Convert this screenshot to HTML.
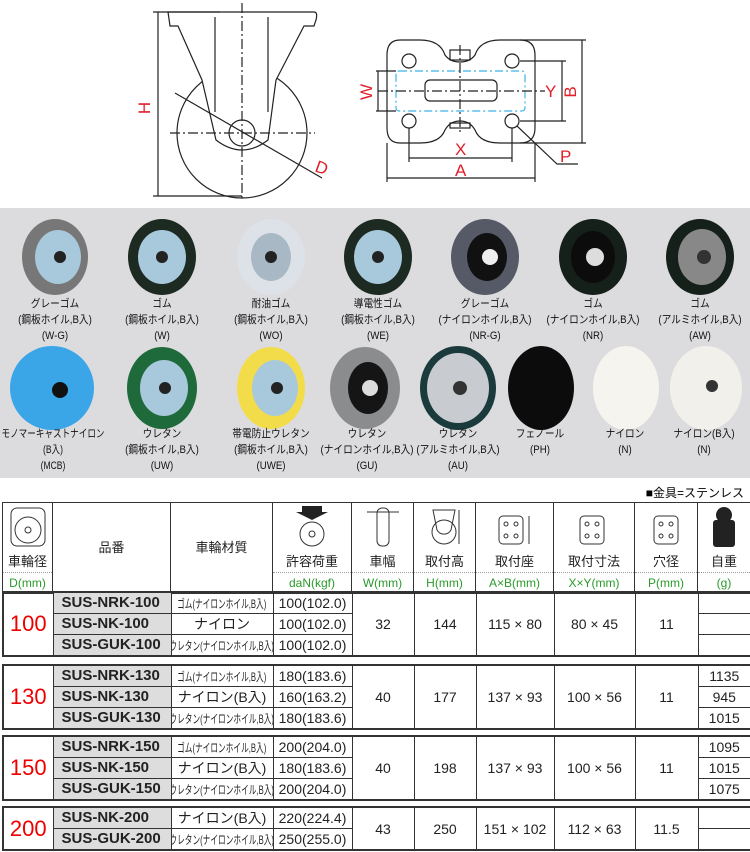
<!DOCTYPE html>
<html><head><meta charset="utf-8"><style>
body{margin:0;width:750px;height:852px;background:#fff;position:relative;overflow:hidden;font-family:"Liberation Sans","Noto Sans CJK JP",sans-serif;}
.a{position:absolute}
.lbl{position:absolute;font-size:11px;line-height:16px;text-align:center;width:140px;color:#111;white-space:nowrap;transform:scaleX(0.88)}
table{position:absolute;border-collapse:collapse;table-layout:fixed;font-size:14px;color:#222}
td{border:1px solid #333;padding:0;text-align:center;height:20px;line-height:18px;white-space:nowrap;overflow:hidden}
.pn{background:#ddd;text-align:left;padding-left:8px;font-weight:bold;font-size:15px}
.mat span{display:inline-block;font-size:12px;transform:scaleX(0.64);transform-origin:center;margin:0 -40px}
.big{color:#e00;font-size:22px;font-weight:normal}
</style></head><body>
<svg class="a" style="left:0;top:0" width="750" height="205" viewBox="0 0 750 205">
<g fill="none" stroke="#222" stroke-width="1.2">
<circle cx="242" cy="133" r="65"/>
<path d="M168 12 H314 Q318 12 316 20 L314 26 H304 L276 80 L268 140 Q242 160 216 140 L202 80 L178 26 H170 Z" fill="#fff"/>
<circle cx="242" cy="133" r="13"/>
<line x1="215" y1="17" x2="215" y2="112"/><line x1="268" y1="17" x2="268" y2="112"/>
<line x1="158" y1="12" x2="158" y2="196"/><line x1="153" y1="12" x2="220" y2="12"/><line x1="153" y1="196" x2="242" y2="196"/>
<line x1="175" y1="93" x2="322" y2="178"/>
<line x1="242" y1="3" x2="242" y2="200" stroke-dasharray="10 3 2 3"/>
<line x1="170" y1="133" x2="315" y2="133" stroke-dasharray="10 3 2 3"/>
<path d="M400 40 H420 Q440 40 445 55 Q450 62 460 62 Q470 62 475 55 Q480 40 500 40 H520 Q535 40 535 55 V128 Q535 143 520 143 H500 Q480 143 475 130 Q470 121 460 121 Q450 121 445 130 Q440 143 420 143 H400 Q387 143 387 128 V55 Q387 40 400 40 Z"/>
<rect x="450" y="50" width="20" height="10"/><rect x="450" y="123" width="20" height="5"/>
<circle cx="409" cy="61" r="7"/><circle cx="512" cy="61" r="7"/><circle cx="409" cy="121" r="7"/><circle cx="512" cy="121" r="7"/>
<rect x="425" y="80" width="72" height="21" rx="5"/>
<rect x="396" y="71" width="129" height="40" rx="3" stroke="#3bb4e8" stroke-dasharray="8 3 2 3"/>
<line x1="378" y1="91" x2="545" y2="91" stroke-dasharray="10 3 2 3"/>
<line x1="460" y1="45" x2="460" y2="135" stroke-dasharray="10 3 2 3"/>
<line x1="376" y1="71" x2="396" y2="71"/><line x1="376" y1="111" x2="396" y2="111"/><line x1="378" y1="71" x2="378" y2="111"/>
<line x1="520" y1="61" x2="566" y2="61"/><line x1="520" y1="121" x2="566" y2="121"/><line x1="562" y1="61" x2="562" y2="121"/>
<line x1="520" y1="40" x2="586" y2="40"/><line x1="520" y1="143" x2="586" y2="143"/><line x1="582" y1="40" x2="582" y2="143"/>
<line x1="409" y1="128" x2="409" y2="162"/><line x1="512" y1="128" x2="512" y2="162"/><line x1="409" y1="158" x2="512" y2="158"/>
<line x1="387" y1="143" x2="387" y2="182"/><line x1="535" y1="143" x2="535" y2="182"/><line x1="387" y1="178" x2="535" y2="178"/>
<path d="M517 126 L557 164 H578"/>
</g>
<g fill="#e0202a" font-size="17" font-family="Liberation Sans">
<text x="150" y="108" transform="rotate(-90 150 108)" text-anchor="middle">H</text>
<text x="314" y="171" transform="rotate(20 314 171)">D</text>
<text x="372" y="92" transform="rotate(-90 372 92)" text-anchor="middle">W</text>
<text x="545" y="97">Y</text>
<text x="576" y="92" transform="rotate(-90 576 92)" text-anchor="middle">B</text>
<text x="455" y="155">X</text><text x="455" y="176">A</text><text x="560" y="162">P</text>
</g>
</svg>
<div class="a" style="left:0;top:208px;width:750px;height:270px;background:#dcdcde"></div>
<svg class="a" style="left:0;top:208px" width="750" height="270">
<g>
<ellipse cx="55" cy="49" rx="33" ry="38" fill="#777"/><ellipse cx="58" cy="49" rx="23" ry="27" fill="#a8c8dc"/><circle cx="60" cy="49" r="6" fill="#222"/>
<ellipse cx="162" cy="49" rx="34" ry="38" fill="#1c2a22"/><ellipse cx="162" cy="49" rx="24" ry="27" fill="#a8c8dc"/><circle cx="162" cy="49" r="6" fill="#222"/>
<ellipse cx="271" cy="49" rx="34" ry="38" fill="#dde2e8"/><ellipse cx="271" cy="49" rx="20" ry="24" fill="#a8b8c4"/><circle cx="271" cy="49" r="6" fill="#222"/>
<ellipse cx="378" cy="49" rx="34" ry="38" fill="#1c2a22"/><ellipse cx="378" cy="49" rx="24" ry="27" fill="#a8c8dc"/><circle cx="378" cy="49" r="6" fill="#222"/>
<ellipse cx="485" cy="49" rx="34" ry="38" fill="#555a66"/><ellipse cx="487" cy="49" rx="20" ry="24" fill="#111"/><circle cx="490" cy="49" r="8" fill="#eee"/>
<ellipse cx="593" cy="49" rx="34" ry="38" fill="#15201a"/><ellipse cx="593" cy="49" rx="22" ry="26" fill="#0c0c0c"/><circle cx="595" cy="49" r="9" fill="#ddd"/>
<ellipse cx="700" cy="49" rx="34" ry="38" fill="#15201a"/><ellipse cx="702" cy="49" rx="24" ry="28" fill="#888"/><circle cx="704" cy="49" r="7" fill="#333"/>
<ellipse cx="52" cy="180" rx="42" ry="42" fill="#3aa6e8"/><circle cx="60" cy="182" r="8" fill="#111"/>
<ellipse cx="162" cy="180" rx="35" ry="41" fill="#1f6a3a"/><ellipse cx="164" cy="180" rx="24" ry="28" fill="#a8c8dc"/><circle cx="165" cy="180" r="6" fill="#222"/>
<ellipse cx="271" cy="180" rx="34" ry="41" fill="#f3dc4a"/><ellipse cx="275" cy="180" rx="23" ry="28" fill="#a8c8dc"/><circle cx="277" cy="180" r="6" fill="#222"/>
<ellipse cx="365" cy="180" rx="35" ry="41" fill="#8a8c8e"/><ellipse cx="368" cy="180" rx="20" ry="26" fill="#151515"/><circle cx="370" cy="180" r="8" fill="#ddd"/>
<ellipse cx="458" cy="180" rx="38" ry="42" fill="#1a3a3c"/><ellipse cx="458" cy="180" rx="31" ry="35" fill="#c8ccd0"/><circle cx="460" cy="180" r="7" fill="#333"/>
<ellipse cx="541" cy="180" rx="33" ry="42" fill="#0c0c0c"/>
<ellipse cx="626" cy="180" rx="33" ry="42" fill="#f6f4ee"/>
<ellipse cx="706" cy="180" rx="36" ry="42" fill="#f2f0ea"/><circle cx="712" cy="178" r="6" fill="#333"/>
</g></svg>
<div class="lbl" style="left:-15px;top:296px">グレーゴム<br>(鋼板ホイル,B入)<br>(W-G)</div>
<div class="lbl" style="left:92px;top:296px">ゴム<br>(鋼板ホイル,B入)<br>(W)</div>
<div class="lbl" style="left:201px;top:296px">耐油ゴム<br>(鋼板ホイル,B入)<br>(WO)</div>
<div class="lbl" style="left:308px;top:296px">導電性ゴム<br>(鋼板ホイル,B入)<br>(WE)</div>
<div class="lbl" style="left:415px;top:296px">グレーゴム<br>(ナイロンホイル,B入)<br>(NR-G)</div>
<div class="lbl" style="left:523px;top:296px">ゴム<br>(ナイロンホイル,B入)<br>(NR)</div>
<div class="lbl" style="left:630px;top:296px">ゴム<br>(アルミホイル,B入)<br>(AW)</div>
<div class="lbl" style="left:-17px;top:426px;transform:scaleX(0.78)">モノマーキャストナイロン<br>(B入)<br>(MCB)</div>
<div class="lbl" style="left:92px;top:426px">ウレタン<br>(鋼板ホイル,B入)<br>(UW)</div>
<div class="lbl" style="left:201px;top:426px">帯電防止ウレタン<br>(鋼板ホイル,B入)<br>(UWE)</div>
<div class="lbl" style="left:297px;top:426px">ウレタン<br>(ナイロンホイル,B入)<br>(GU)</div>
<div class="lbl" style="left:388px;top:426px">ウレタン<br>(アルミホイル,B入)<br>(AU)</div>
<div class="lbl" style="left:470px;top:426px">フェノール<br>(PH)</div>
<div class="lbl" style="left:555px;top:426px">ナイロン<br>(N)</div>
<div class="lbl" style="left:634px;top:426px">ナイロン(B入)<br>(N)</div>
<div class="a" style="right:6px;top:484px;font-size:12px">■金具=ステンレス</div>
<table style="left:2px;top:502px;width:748px">
<colgroup><col style="width:50px"><col style="width:118px"><col style="width:102px"><col style="width:79px"><col style="width:62px"><col style="width:62px"><col style="width:78px"><col style="width:81px"><col style="width:63px"><col style="width:53px"></colgroup>
<tr style="height:49px"><td style="height:49px;border-bottom:none"><svg width="40" height="44"><rect x="3" y="4" width="34" height="38" rx="6" fill="none" stroke="#333"/><circle cx="20" cy="26" r="13" fill="none" stroke="#333"/><circle cx="20" cy="26" r="3" fill="none" stroke="#333"/></svg></td>
<td rowspan="3" style="font-size:13px">品番</td><td rowspan="3" style="font-size:13px">車輪材質</td>
<td style="border-bottom:none"><svg width="40" height="44"><path d="M10 2h20v6h6l-16 8-16-8h6z" fill="#222"/><circle cx="20" cy="30" r="12" fill="none" stroke="#333"/><circle cx="20" cy="30" r="3" fill="none" stroke="#333"/></svg></td>
<td style="border-bottom:none"><svg width="40" height="44"><rect x="14" y="4" width="12" height="38" rx="5" fill="none" stroke="#333"/><line x1="4" y1="8" x2="36" y2="8" stroke="#333"/></svg></td>
<td style="border-bottom:none"><svg width="40" height="44"><path d="M8 6h22l-4 20a8 8 0 0 1-14 0z" fill="none" stroke="#333"/><circle cx="19" cy="28" r="12" fill="none" stroke="#333"/><line x1="34" y1="6" x2="34" y2="40" stroke="#333"/></svg></td>
<td style="border-bottom:none"><svg width="44" height="44"><rect x="6" y="12" width="24" height="28" rx="4" fill="none" stroke="#333"/><circle cx="13" cy="20" r="2" fill="none" stroke="#333"/><circle cx="23" cy="20" r="2" fill="none" stroke="#333"/><circle cx="13" cy="32" r="2" fill="none" stroke="#333"/><circle cx="23" cy="32" r="2" fill="none" stroke="#333"/><line x1="36" y1="12" x2="36" y2="40" stroke="#333"/></svg></td>
<td style="border-bottom:none"><svg width="44" height="44"><rect x="8" y="12" width="24" height="28" rx="4" fill="none" stroke="#333"/><circle cx="15" cy="20" r="2" fill="none" stroke="#333"/><circle cx="25" cy="20" r="2" fill="none" stroke="#333"/><circle cx="15" cy="32" r="2" fill="none" stroke="#333"/><circle cx="25" cy="32" r="2" fill="none" stroke="#333"/></svg></td>
<td style="border-bottom:none"><svg width="40" height="44"><rect x="8" y="12" width="24" height="28" rx="4" fill="none" stroke="#333"/><circle cx="15" cy="20" r="2" fill="none" stroke="#333"/><circle cx="25" cy="20" r="2" fill="none" stroke="#333"/><circle cx="15" cy="32" r="2" fill="none" stroke="#333"/><circle cx="25" cy="32" r="2" fill="none" stroke="#333"/></svg></td>
<td style="border-bottom:none"><svg width="40" height="44"><circle cx="20" cy="11" r="8" fill="#222"/><rect x="9" y="16" width="22" height="27" rx="3" fill="#222"/></svg></td></tr>
<tr><td style="border-top:none;border-bottom:1px dotted #999;font-size:13px">車輪径</td><td style="border-top:none;border-bottom:1px dotted #999;font-size:13px">許容荷重</td><td style="border-top:none;border-bottom:1px dotted #999;font-size:13px">車幅</td><td style="border-top:none;border-bottom:1px dotted #999;font-size:13px">取付高</td><td style="border-top:none;border-bottom:1px dotted #999;font-size:13px">取付座</td><td style="border-top:none;border-bottom:1px dotted #999;font-size:13px">取付寸法</td><td style="border-top:none;border-bottom:1px dotted #999;font-size:13px">穴径</td><td style="border-top:none;border-bottom:1px dotted #999;font-size:13px">自重</td></tr>
<tr style="color:#2a9a2a;font-size:12px"><td style="border-top:none">D(mm)</td><td style="border-top:none">daN(kgf)</td><td style="border-top:none">W(mm)</td><td style="border-top:none">H(mm)</td><td style="border-top:none">A×B(mm)</td><td style="border-top:none">X×Y(mm)</td><td style="border-top:none">P(mm)</td><td style="border-top:none">(g)</td></tr>
</table>
<table style="left:2px;top:591px;width:748px;border:2px solid #333">
<colgroup><col style="width:50px"><col style="width:118px"><col style="width:102px"><col style="width:79px"><col style="width:62px"><col style="width:62px"><col style="width:78px"><col style="width:81px"><col style="width:63px"><col style="width:53px"></colgroup>
<tr><td rowspan="3" class="big">100</td><td class="pn">SUS-NRK-100</td><td class="mat"><span>ゴム(ナイロンホイル,B入)</span></td><td>100(102.0)</td><td rowspan="3">32</td><td rowspan="3">144</td><td rowspan="3">115 × 80</td><td rowspan="3">80 × 45</td><td rowspan="3">11</td><td></td></tr>
<tr><td class="pn">SUS-NK-100</td><td>ナイロン</td><td>100(102.0)</td><td></td></tr>
<tr><td class="pn">SUS-GUK-100</td><td class="mat"><span>ウレタン(ナイロンホイル,B入)</span></td><td>100(102.0)</td><td></td></tr>
</table>
<table style="left:2px;top:664px;width:748px;border:2px solid #333">
<colgroup><col style="width:50px"><col style="width:118px"><col style="width:102px"><col style="width:79px"><col style="width:62px"><col style="width:62px"><col style="width:78px"><col style="width:81px"><col style="width:63px"><col style="width:53px"></colgroup>
<tr><td rowspan="3" class="big">130</td><td class="pn">SUS-NRK-130</td><td class="mat"><span>ゴム(ナイロンホイル,B入)</span></td><td>180(183.6)</td><td rowspan="3">40</td><td rowspan="3">177</td><td rowspan="3">137 × 93</td><td rowspan="3">100 × 56</td><td rowspan="3">11</td><td>1135</td></tr>
<tr><td class="pn">SUS-NK-130</td><td>ナイロン(B入)</td><td>160(163.2)</td><td>945</td></tr>
<tr><td class="pn">SUS-GUK-130</td><td class="mat"><span>ウレタン(ナイロンホイル,B入)</span></td><td>180(183.6)</td><td>1015</td></tr>
</table>
<table style="left:2px;top:735px;width:748px;border:2px solid #333">
<colgroup><col style="width:50px"><col style="width:118px"><col style="width:102px"><col style="width:79px"><col style="width:62px"><col style="width:62px"><col style="width:78px"><col style="width:81px"><col style="width:63px"><col style="width:53px"></colgroup>
<tr><td rowspan="3" class="big">150</td><td class="pn">SUS-NRK-150</td><td class="mat"><span>ゴム(ナイロンホイル,B入)</span></td><td>200(204.0)</td><td rowspan="3">40</td><td rowspan="3">198</td><td rowspan="3">137 × 93</td><td rowspan="3">100 × 56</td><td rowspan="3">11</td><td>1095</td></tr>
<tr><td class="pn">SUS-NK-150</td><td>ナイロン(B入)</td><td>180(183.6)</td><td>1015</td></tr>
<tr><td class="pn">SUS-GUK-150</td><td class="mat"><span>ウレタン(ナイロンホイル,B入)</span></td><td>200(204.0)</td><td>1075</td></tr>
</table>
<table style="left:2px;top:806px;width:748px;border:2px solid #333">
<colgroup><col style="width:50px"><col style="width:118px"><col style="width:102px"><col style="width:79px"><col style="width:62px"><col style="width:62px"><col style="width:78px"><col style="width:81px"><col style="width:63px"><col style="width:53px"></colgroup>
<tr><td rowspan="2" class="big">200</td><td class="pn">SUS-NK-200</td><td>ナイロン(B入)</td><td>220(224.4)</td><td rowspan="2">43</td><td rowspan="2">250</td><td rowspan="2">151 × 102</td><td rowspan="2">112 × 63</td><td rowspan="2">11.5</td><td></td></tr>
<tr><td class="pn">SUS-GUK-200</td><td class="mat"><span>ウレタン(ナイロンホイル,B入)</span></td><td>250(255.0)</td><td></td></tr>
</table>
</body></html>
